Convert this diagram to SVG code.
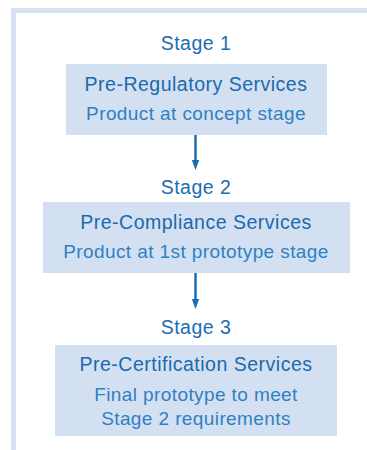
<svg xmlns="http://www.w3.org/2000/svg" width="367" height="450" viewBox="0 0 367 450">
<defs>
<style>
.frame{fill:none;stroke:#d6e2f2;stroke-width:5}
.box{fill:#d3e0f1}
.stage{font-family:"Liberation Sans",Arial,sans-serif;font-size:19.5px;letter-spacing:0.5px;fill:#1b6db2;text-anchor:middle}
.title{font-family:"Liberation Sans",Arial,sans-serif;font-size:19.5px;letter-spacing:0.5px;fill:#1a6aae;text-anchor:middle}
.sub{font-family:"Liberation Sans",Arial,sans-serif;font-size:19px;letter-spacing:0.4px;fill:#2f80c3;text-anchor:middle}
.conn{stroke:#1b6db2;stroke-width:2.5;fill:none}
.head{fill:#1b6db2}
</style>
</defs>
<rect width="367" height="450" fill="#ffffff"/>
<path class="frame" d="M13.5,450 V10.5 H367"/>
<g id="stage1">
<text class="stage" x="196" y="49.5">Stage 1</text>
<rect class="box" x="66" y="64" width="261" height="71"/>
<text class="title" x="196" y="91">Pre-Regulatory Services</text>
<text class="sub" x="196" y="120">Product at concept stage</text>
</g>
<g id="stage2">
<text class="stage" x="196" y="193.5">Stage 2</text>
<rect class="box" x="43" y="202" width="307" height="71"/>
<text class="title" x="196" y="229">Pre-Compliance Services</text>
<text class="sub" x="196" y="258">Product at 1st prototype stage</text>
</g>
<g id="stage3">
<text class="stage" x="196" y="333.5">Stage 3</text>
<rect class="box" x="55" y="345" width="282" height="91"/>
<text class="title" x="196" y="371">Pre-Certification Services</text>
<text class="sub" x="196" y="401">Final prototype to meet</text>
<text class="sub" x="196" y="425">Stage 2 requirements</text>
</g>
<g id="connectors">
<line class="conn" x1="195.5" y1="135" x2="195.5" y2="161"/>
<polygon class="head" points="191.8,160 199.2,160 195.5,170"/>
<line class="conn" x1="195.5" y1="273" x2="195.5" y2="300"/>
<polygon class="head" points="191.8,299 199.2,299 195.5,309"/>
</g>
</svg>
